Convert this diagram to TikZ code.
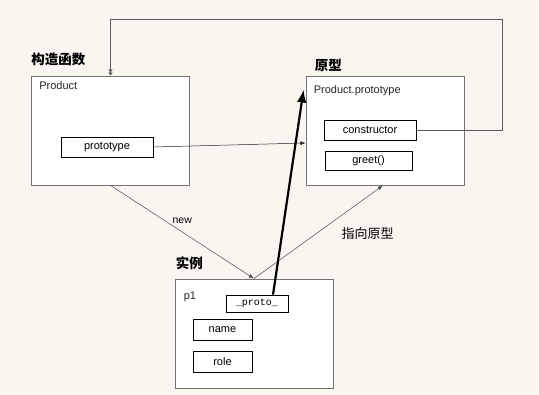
\documentclass[tikz,border=0pt]{standalone}
\usepackage{fontspec}
\setmainfont{Liberation Sans}
\setmonofont{Liberation Mono}
\newfontfamily\cjk{Noto Sans CJK SC}
\usepackage{tikz}
\usetikzlibrary{arrows.meta,positioning}
\definecolor{paper}{RGB}{249,246,240}

\begin{document}
\begin{tikzpicture}[x=1pt,y=-1pt,>=Latex,font=\fontsize{11}{13}\selectfont,
 outer/.style={draw=black!55,fill=white,line width=.8pt,minimum width=158pt,minimum height=109pt,inner sep=0pt},
 field/.style={draw=black,fill=white,line width=.7pt,inner sep=0pt,minimum height=20pt},
 title/.style={font=\cjk\bfseries\fontsize{13.5}{15}\selectfont,anchor=south west,inner sep=0pt},
 boxname/.style={anchor=north west,inner sep=0pt,text=black!85},
 link/.style={->,draw=black!70,line width=.5pt}]
\fill[paper] (0,0) rectangle (539,395);
% the three objects
\node[outer] (ctorbox) at (110.5,130.5) {};
\node[outer] (protobox) at (385,130.5) {};
\node[outer] (instbox) at (254,333.5) {};
\node[title] (ctortitle) at ([xshift=0pt,yshift=10pt]ctorbox.north west) {构造函数};
\node[title] (prototitle) at ([xshift=9pt,yshift=4pt]protobox.north west) {原型};
\node[title] (insttitle) at ([xshift=1pt,yshift=9pt]instbox.north west) {实例};
\node[boxname] (ctorname) at ([xshift=8pt,yshift=-6pt]ctorbox.north west) {Product};
\node[boxname] (protoname) at ([xshift=8pt,yshift=-10pt]protobox.north west) {Product.prototype};
\node[boxname] (instname) at ([xshift=9pt,yshift=-13pt]instbox.north west) {p1};
% fields
\node[field,minimum width=92pt] (protofield) at (107,147) {prototype};
\node[field,minimum width=92pt] (ctorfield) at (370,130) {constructor};
\node[field,minimum width=87pt,minimum height=19pt] (greetfield) at (368.5,160.5) {greet()};
\node[field,minimum width=62pt,minimum height=17pt,font=\ttfamily\fontsize{10}{12}\selectfont] (protolink) at (257,303.5) {\_proto\_};
\node[field,minimum width=59pt,minimum height=21pt] (namefield) at (222.5,329.5) {name};
\node[field,minimum width=59pt,minimum height=21pt] (rolefield) at (222.5,361.5) {role};
% links
\coordinate (loopcorner) at (502,19);
\draw[black!65,line width=.9pt,-{Latex[length=3pt,width=5pt] Latex[length=3pt,width=5pt]}]
 (ctorfield.east) -| (loopcorner) -| (ctorbox.north);
\draw[link,draw=black!85] (protofield.east) -- ([yshift=-12.5pt]protobox.west);
\draw[link] (ctorbox.south) -- node[midway,above=8pt,inner sep=0pt,font=\fontsize{10.5}{12}\selectfont]{new} (instbox.north);
\draw[link] (instbox.north) -- node[pos=.6,anchor=west,xshift=10pt,yshift=-11pt,inner sep=0pt,font=\cjk\fontsize{13}{15}\selectfont]{指向原型} ([xshift=-2pt]protobox.south);
\draw[->,line width=2.2pt] ([xshift=16pt]protolink.north) -- ([xshift=-2pt,yshift=-14pt]protobox.north west);
\end{tikzpicture}
\end{document}
